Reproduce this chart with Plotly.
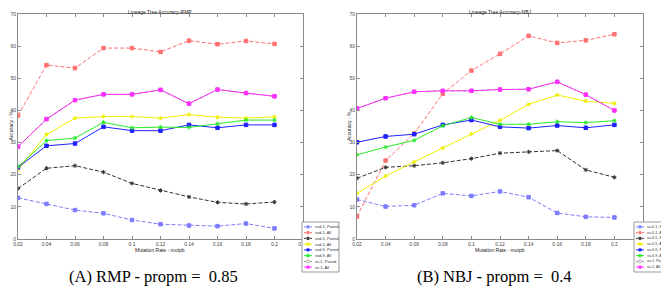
import plotly.graph_objects as go

W, H = 669, 287

mutation_rate = [0.02, 0.04, 0.06, 0.08, 0.10, 0.12, 0.14, 0.16, 0.18, 0.20]
x_tickvals = [0.02, 0.04, 0.06, 0.08, 0.10, 0.12, 0.14, 0.16, 0.18, 0.20, 0.22]
x_ticktext = ["0.02", "0.04", "0.06", "0.08", "0.1", "0.12", "0.14", "0.16", "0.18", "0.2", "0.22"]
y_tickvals = [0, 10, 20, 30, 40, 50, 60, 70]

# ---- Panel A: RMP ----
rmp_names = ["ssd-1, Paired", "ssd-1, All", "ssd-5, Paired", "ssd-5, All",
             "ssd-9, Paired", "ssd-9, All", "sv-1, Paired", "sv-1, All"]
rmp_ssd1_paired = [12.8, 10.9, 9.0, 8.0, 5.9, 4.6, 4.2, 4.0, 4.8, 3.3]
rmp_ssd1_all = [38.4, 54.1, 53.2, 59.4, 59.4, 58.2, 61.7, 60.6, 61.6, 60.7]
rmp_ssd5_paired = [15.7, 22.0, 22.8, 20.8, 17.3, 15.1, 13.1, 11.4, 10.9, 11.5]
rmp_ssd5_all = [21.5, 32.5, 37.6, 38.1, 38.1, 37.6, 38.7, 37.9, 37.6, 38.0]
rmp_ssd9_paired = [22.3, 29.0, 29.7, 34.9, 33.7, 33.7, 35.5, 34.6, 35.5, 35.5]
rmp_ssd9_all = [22.5, 30.6, 31.4, 36.3, 34.6, 34.8, 34.7, 35.8, 37.0, 37.0]
rmp_sv1_paired = [28.7, 37.3, 43.2, 45.0, 45.0, 46.4, 42.1, 46.5, 45.4, 44.4]
rmp_sv1_all = [28.7, 37.3, 43.2, 45.0, 45.0, 46.4, 42.1, 46.5, 45.4, 44.4]

# ---- Panel B: NBJ ----
nbj_names = ["ss-0.1, Paired", "ss-0.1, All", "ss-0.5, Paired", "ss-0.5, All",
             "ss-0.9, Paired", "ss-0.9, All", "sv-1, Paired", "sv-1, All"]
nbj_ss01_paired = [12.3, 10.1, 10.5, 14.2, 13.4, 14.8, 13.0, 8.1, 6.9, 6.7]
nbj_ss01_all = [7.0, 24.4, 32.8, 45.2, 52.4, 57.6, 63.2, 61.0, 61.8, 63.7]
nbj_ss05_paired = [18.9, 22.3, 22.8, 23.7, 25.0, 26.7, 27.1, 27.5, 21.5, 19.2]
nbj_ss05_all = [14.2, 19.6, 24.0, 28.3, 32.7, 36.9, 41.9, 44.8, 42.9, 42.2]
nbj_ss09_paired = [30.1, 31.9, 32.6, 35.5, 37.0, 34.9, 34.5, 35.3, 34.6, 35.5]
nbj_ss09_all = [26.2, 28.6, 30.7, 35.2, 37.8, 35.7, 35.7, 36.5, 36.2, 36.8]
nbj_sv1_paired = [40.6, 43.8, 45.8, 46.1, 46.1, 46.5, 46.6, 48.9, 44.9, 40.0]
nbj_sv1_all = [40.6, 43.8, 45.8, 46.1, 46.1, 46.5, 46.6, 48.9, 44.9, 40.0]

# styles: (color, dash, marker symbol)
styles = [
    ("#7c7cff", "dash", "square"),
    ("#ff7070", "dash", "square"),
    ("#333333", "dash", "asterisk-open"),
    ("#f0f000", "solid", "asterisk-open"),
    ("#2020ff", "solid", "square"),
    ("#2aea2a", "solid", "asterisk-open"),
    ("#9a9a9a", "dash", "circle-open"),
    ("#ff30ff", "solid", "square"),
]

rmp_series = [rmp_ssd1_paired, rmp_ssd1_all, rmp_ssd5_paired, rmp_ssd5_all,
              rmp_ssd9_paired, rmp_ssd9_all, rmp_sv1_paired, rmp_sv1_all]
nbj_series = [nbj_ss01_paired, nbj_ss01_all, nbj_ss05_paired, nbj_ss05_all,
              nbj_ss09_paired, nbj_ss09_all, nbj_sv1_paired, nbj_sv1_all]

fig = go.Figure()


def add_panel(series, names, xa, ya):
    for vals, name, (col, dash, sym) in zip(series, names, styles):
        fig.add_trace(go.Scatter(
            x=mutation_rate, y=vals, name=name, mode="lines+markers",
            xaxis=xa, yaxis=ya, showlegend=False,
            line=dict(color=col, width=1, dash="4px,2px" if dash == "dash" else "solid"),
            marker=dict(symbol=sym, size=3.5, color=col, line=dict(color=col, width=1)),
        ))


add_panel(rmp_series, rmp_names, "x", "y")
add_panel(nbj_series, nbj_names, "x2", "y2")


def px_x(p):
    return p / W


def px_y(p):
    return 1 - p / H


axis_common = dict(
    showline=True, linecolor="#8a8a8a", linewidth=1, mirror="allticks",
    ticks="inside", ticklen=3, tickcolor="#8a8a8a", showgrid=False, zeroline=False,
    tickfont=dict(size=5, color="#444444", family="Liberation Sans"),
)

fig.update_layout(
    width=W, height=H,
    margin=dict(l=0, r=0, t=0, b=0, autoexpand=False),
    paper_bgcolor="white", plot_bgcolor="white",
    xaxis=dict(domain=[px_x(10), px_x(295)], range=[0.02, 0.22], anchor="y",
               tickvals=x_tickvals, ticktext=x_ticktext, **axis_common),
    yaxis=dict(domain=[px_y(231), px_y(6)], range=[0, 70], anchor="x",
               tickvals=y_tickvals, **axis_common),
    xaxis2=dict(domain=[px_x(349), px_x(635)], range=[0.02, 0.22], anchor="y2",
                tickvals=x_tickvals, ticktext=x_ticktext, **axis_common),
    yaxis2=dict(domain=[px_y(231), px_y(6)], range=[0, 70], anchor="x2",
                tickvals=y_tickvals, **axis_common),
    showlegend=False,
)

small = dict(size=5, color="#222222", family="Liberation Sans")


def add_text(x, y, text, font, **kw):
    fig.add_annotation(x=px_x(x), y=px_y(y), xref="paper", yref="paper", text=text,
                       showarrow=False, font=font, borderpad=0, **kw)


# titles and axis titles
add_text(152, 3.5, "Lineage Tree Accuracy-RMP", small, xanchor="center", yanchor="middle")
add_text(492, 3.5, "Lineage Tree Accuracy-NBJ", small, xanchor="center", yanchor="middle")
add_text(152, 242, "Mutation Rate - mutpb", small, xanchor="center", yanchor="middle")
add_text(492, 242, "Mutation Rate - mutpb", small, xanchor="center", yanchor="middle")
add_text(2.5, 118, "Accuracy - %", small, xanchor="center", yanchor="middle", textangle=-90)
add_text(341, 118, "Accuracy - %", small, xanchor="center", yanchor="middle", textangle=-90)

# captions
cap_font = dict(size=16.5, color="black", family="Liberation Serif")
add_text(145, 268, "(A) RMP - propm =  0.85", cap_font, xanchor="center", yanchor="middle")
add_text(487, 268, "(B) NBJ - propm =  0.4", cap_font, xanchor="center", yanchor="middle")


# legends (boxed, at lower right of each panel)
def add_legend(x0, y0, x1, y1, names, fsize, tgap):
    fig.add_shape(type="rect", xref="paper", yref="paper",
                  x0=px_x(x0), x1=px_x(x1), y0=px_y(y1), y1=px_y(y0),
                  line=dict(color="#9a9a9a", width=1), fillcolor="white", layer="above")
    step = (y1 - y0 - 4) / len(names)
    for i, (name, (col, dash, sym)) in enumerate(zip(names, styles)):
        yc = y0 + 2 + step * (i + 0.5)
        fig.add_shape(type="line", xref="paper", yref="paper",
                      x0=px_x(x0 + 2), x1=px_x(x0 + 10), y0=px_y(yc), y1=px_y(yc),
                      line=dict(color=col, width=1, dash="2px,1px" if dash == "dash" else "solid"),
                      layer="above")
        if sym.startswith("circle"):
            fig.add_shape(type="circle", xref="paper", yref="paper",
                          x0=px_x(x0 + 4.5), x1=px_x(x0 + 7.5), y0=px_y(yc + 1.5), y1=px_y(yc - 1.5),
                          line=dict(color=col, width=0.8), fillcolor="white", layer="above")
        else:
            fig.add_shape(type="rect", xref="paper", yref="paper",
                          x0=px_x(x0 + 4.8), x1=px_x(x0 + 7.2), y0=px_y(yc + 1.2), y1=px_y(yc - 1.2),
                          line=dict(color=col, width=0.6), fillcolor=col, layer="above")
        add_text(x0 + tgap, yc, name, dict(size=fsize, color="#333333", family="Liberation Sans"),
                 xanchor="left", yanchor="middle")


add_legend(294, 214, 331, 264, rmp_names, 4, 12)
add_legend(626, 214, 668, 264, nbj_names, 3.8, 11.5)

fig.write_html("out.html")
